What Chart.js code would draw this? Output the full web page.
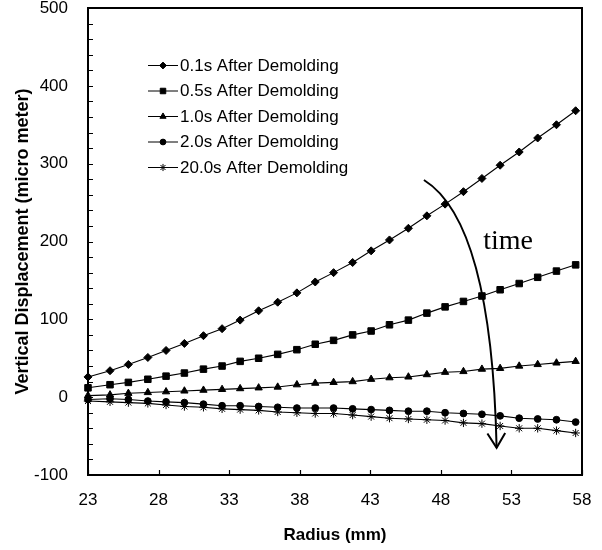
<!DOCTYPE html>
<html>
<head>
<meta charset="utf-8">
<script src="https://cdn.jsdelivr.net/npm/chart.js@4.4.1/dist/chart.umd.min.js"></script>
<style>
  html, body { margin: 0; padding: 0; background: #ffffff; }
  #wrap { width: 602px; height: 550px; }
</style>
</head>
<body>
<div id="wrap"><canvas id="c" width="602" height="550"></canvas></div>
<script>
// ---- data ----
const radius = [23.00, 24.56, 25.86, 27.24, 28.53, 29.83, 31.18, 32.50, 33.78, 35.09, 36.44, 37.80, 39.10, 40.40,
                41.75, 43.06, 44.36, 45.70, 47.01, 48.30, 49.60, 50.91, 52.20, 53.55, 54.86, 56.19, 57.55];
const disp01s = [26, 34, 42, 51, 60, 69, 79, 88, 99, 111, 122, 134, 148, 160, 173, 188, 202, 217, 233, 248, 264, 281, 298, 315, 333, 350, 368];
const disp05s = [12, 16, 19, 23, 27, 31, 36, 40, 46, 50, 55, 61, 68, 73, 80, 85, 93, 99, 108, 116, 123, 130, 138, 146, 154, 162, 170];
const disp10s = [2, 3, 5, 6, 7, 8, 9, 10, 11, 12, 13, 16, 18, 19, 20, 23, 25, 26, 29, 32, 33, 36, 37, 40, 42, 44, 46];
const disp20s = [-3, -2, -3, -5, -6, -7, -9, -11, -11, -12, -13, -14, -14, -14, -15, -16, -17, -18, -18, -20, -21, -22, -24, -27, -28, -29, -32];
const disp200s = [-5, -6, -7, -8, -10, -12, -13, -15, -16, -17, -19, -20, -21, -21, -23, -25, -27, -28, -29, -30, -33, -34, -37, -40, -40, -43, -46];
const seriesLabels = ['0.1s After Demolding', '0.5s After Demolding', '1.0s After Demolding', '2.0s After Demolding', '20.0s After Demolding'];
const xTicks = [23, 28, 33, 38, 43, 48, 53, 58];
const yTicks = [-100, 0, 100, 200, 300, 400, 500];
const yMinorTicks = [-80, -60, -40, -20, 20, 40, 60, 80, 120, 140, 160, 180, 220, 240, 260, 280, 320, 340, 360, 380, 420, 440, 460, 480];
// annotation arrow "time" in data units: start, control, end
const arrowPath = { start: [46.8, 279], ctrl: [51.6, 225], end: [51.95, -65] };
const arrowLabel = { text: 'time', x: 51.0, y: 190 };

// ---- build ----
const seriesValues = [disp01s, disp05s, disp10s, disp20s, disp200s];
const styles = [
  { pointStyle: 'rectRot', pointRadius: 4 },
  { pointStyle: 'rect', pointRadius: 4.6 },
  { pointStyle: 'triangle', pointRadius: 4.2 },
  { pointStyle: 'circle', pointRadius: 3.4 },
  { pointStyle: 'star', pointRadius: 4.2 }
];
const datasets = seriesValues.map((vals, i) => ({
  label: seriesLabels[i],
  data: vals.map((v, k) => ({ x: radius[k], y: v })),
  borderColor: '#000',
  backgroundColor: '#000',
  borderWidth: 1.1,
  pointBorderWidth: 1,
  pointBorderColor: '#000',
  pointBackgroundColor: '#000',
  pointStyle: styles[i].pointStyle,
  pointRadius: styles[i].pointRadius,
  tension: 0,
  clip: false
}));

const decorPlugin = {
  id: 'decor',
  afterDraw(chart) {
    const ctx = chart.ctx;
    const a = chart.chartArea;
    const xs = chart.scales.x, ys = chart.scales.y;
    ctx.save();
    // frame
    ctx.strokeStyle = '#000';
    ctx.lineWidth = 2;
    ctx.strokeRect(a.left, a.top, a.right - a.left, a.bottom - a.top);
    // inward ticks
    ctx.lineWidth = 1.2;
    ctx.beginPath();
    xTicks.forEach(v => {
      const px = Math.round(xs.getPixelForValue(v)) + 0.5;
      ctx.moveTo(px, a.bottom); ctx.lineTo(px, a.bottom - 5);
    });
    yTicks.concat(yMinorTicks).forEach(v => {
      const py = Math.round(ys.getPixelForValue(v)) + 0.5;
      ctx.moveTo(a.left, py); ctx.lineTo(a.left + 5, py);
    });
    ctx.stroke();

    // legend inside plot
    const lx0 = 148, lx1 = 178, ly0 = 65, dy = 25.5;
    ctx.font = '17px "Liberation Sans", Arial, sans-serif';
    ctx.textBaseline = 'middle';
    ctx.textAlign = 'left';
    chart.data.datasets.forEach((ds, i) => {
      const y = ly0 + i * dy;
      ctx.strokeStyle = '#000';
      ctx.lineWidth = 1;
      ctx.beginPath(); ctx.moveTo(lx0, y + 0.5); ctx.lineTo(lx1, y + 0.5); ctx.stroke();
      ctx.fillStyle = '#000';
      Chart.helpers.drawPoint(ctx, { pointStyle: ds.pointStyle, radius: ds.pointRadius * 0.85, borderWidth: 1 }, (lx0 + lx1) / 2, y + 0.5);
      ctx.fillStyle = '#000';
      ctx.fillText(ds.label, lx1 + 2, y + 1);
    });

    // curved arrow
    const P = p => [xs.getPixelForValue(p[0]), ys.getPixelForValue(p[1])];
    const s = P(arrowPath.start), c = P(arrowPath.ctrl), e = P(arrowPath.end);
    ctx.strokeStyle = '#000';
    ctx.lineWidth = 2;
    ctx.beginPath();
    ctx.moveTo(s[0], s[1]);
    ctx.quadraticCurveTo(c[0], c[1], e[0], e[1]);
    ctx.stroke();
    // arrow head (open V)
    const ang = Math.atan2(e[1] - c[1], e[0] - c[0]);
    const hl = 17, hw = 0.55;
    ctx.beginPath();
    ctx.moveTo(e[0] - hl * Math.cos(ang - hw), e[1] - hl * Math.sin(ang - hw));
    ctx.lineTo(e[0], e[1]);
    ctx.lineTo(e[0] - hl * Math.cos(ang + hw), e[1] - hl * Math.sin(ang + hw));
    ctx.stroke();
    // label
    ctx.font = '28px "Liberation Serif", "Times New Roman", serif';
    ctx.textBaseline = 'alphabetic';
    ctx.fillStyle = '#000';
    const t = P([arrowLabel.x, arrowLabel.y]);
    ctx.fillText(arrowLabel.text, t[0], t[1]);
    ctx.restore();
  }
};

new Chart(document.getElementById('c'), {
  type: 'line',
  data: { datasets },
  options: {
    responsive: false,
    animation: false,
    devicePixelRatio: 1,
    layout: { padding: { top: 8, right: 20, bottom: 0, left: 0 } },
    plugins: { legend: { display: false }, tooltip: { enabled: false } },
    scales: {
      x: {
        type: 'linear',
        min: 23, max: 58,
        afterBuildTicks: sc => { sc.ticks = xTicks.map(v => ({ value: v })); },
        afterFit: sc => { sc.height = 75; sc.paddingLeft = 0; sc.paddingRight = 0; },
        grid: { display: false },
        border: { display: true, color: '#000', width: 2 },
        ticks: { color: '#000', padding: 7, maxRotation: 0, autoSkip: false,
                 font: { family: '"Liberation Sans", Arial, sans-serif', size: 17 } },
        title: { display: true, text: 'Radius (mm)', color: '#000', padding: { top: 0, bottom: 4 },
                 font: { family: '"Liberation Sans", Arial, sans-serif', size: 17, weight: 'bold' } }
      },
      y: {
        type: 'linear',
        min: -100, max: 500,
        afterBuildTicks: sc => { sc.ticks = yTicks.map(v => ({ value: v })); },
        afterFit: sc => { sc.width = 88; sc.paddingTop = 0; sc.paddingBottom = 0; },
        grid: { display: false },
        border: { display: true, color: '#000', width: 2 },
        ticks: { color: '#000', padding: 12,
                 font: { family: '"Liberation Sans", Arial, sans-serif', size: 17 } },
        title: { display: true, text: 'Vertical Displacement (micro meter)', color: '#000', padding: { top: 12, bottom: 0 },
                 font: { family: '"Liberation Sans", Arial, sans-serif', size: 18, weight: 'bold' } }
      }
    }
  },
  plugins: [decorPlugin]
});
</script>
</body>
</html>
